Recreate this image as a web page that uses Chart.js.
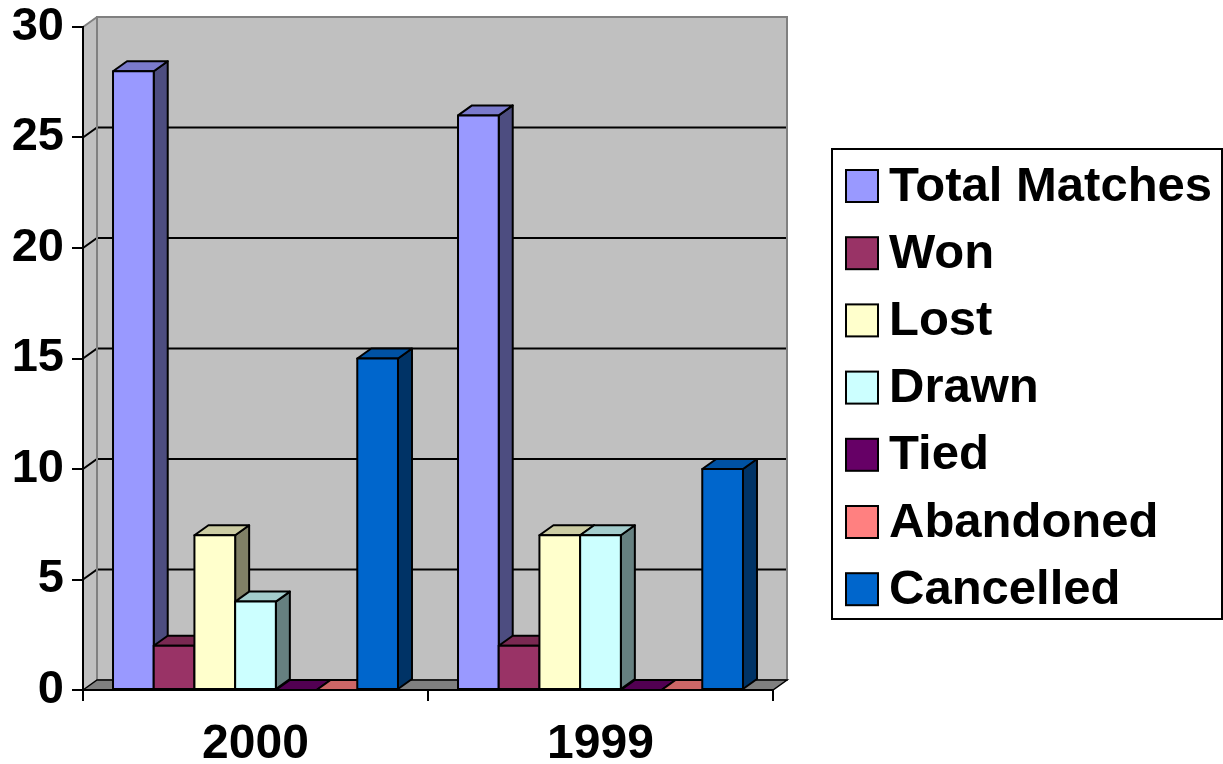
<!DOCTYPE html>
<html>
<head>
<meta charset="utf-8">
<script src="https://cdn.jsdelivr.net/npm/chart.js@4/dist/chart.umd.min.js"></script>
<style>
  html, body { margin: 0; padding: 0; background: #fff; }
  #wrap { width: 1223px; height: 764px; position: relative; }
</style>
</head>
<body>
<div id="wrap"><canvas id="chart"></canvas></div>
<script>
  var years = ["2000", "1999"];
  var seriesNames = ["Total Matches", "Won", "Lost", "Drawn", "Tied", "Abandoned", "Cancelled"];
  var totalMatches = [28, 26];
  var won = [2, 2];
  var lost = [7, 7];
  var drawn = [4, 7];
  var tied = [0, 0];
  var abandoned = [0, 0];
  var cancelled = [15, 10];
  var seriesColors = ["#9999FF", "#993366", "#FFFFCC", "#CCFFFF", "#660066", "#FF8080", "#0066CC"];
  var yTicks = [0, 5, 10, 15, 20, 25, 30];

  var FONT = '"Liberation Sans", Arial, sans-serif';
  var DX = 14, DY = 10; // 3D depth of walls and columns

  function shade(hex, f) {
    var n = parseInt(hex.slice(1), 16);
    var r = Math.round(((n >> 16) & 255) * f), g = Math.round(((n >> 8) & 255) * f), b = Math.round((n & 255) * f);
    return "rgb(" + r + "," + g + "," + b + ")";
  }

  function poly(ctx, pts, fill, stroke, lw) {
    ctx.beginPath();
    ctx.moveTo(pts[0][0], pts[0][1]);
    for (var i = 1; i < pts.length; i++) ctx.lineTo(pts[i][0], pts[i][1]);
    ctx.closePath();
    if (fill) { ctx.fillStyle = fill; ctx.fill(); }
    if (stroke) { ctx.strokeStyle = stroke; ctx.lineWidth = lw || 2; ctx.stroke(); }
  }

  // back wall, side wall, gridlines and floor, drawn before the axes
  var walls = {
    id: "walls",
    beforeDraw: function (chart) {
      var ctx = chart.ctx, a = chart.chartArea, ys = chart.scales.y;
      ctx.save();
      ctx.fillStyle = "#C0C0C0";
      ctx.fillRect(a.left + DX, a.top - DY, a.right - a.left, a.bottom - a.top);
      poly(ctx, [[a.left, a.top], [a.left + DX, a.top - DY], [a.left + DX, a.bottom - DY], [a.left, a.bottom]], "#C0C0C0");

      ctx.strokeStyle = "#000";
      ctx.lineWidth = 2;
      for (var i = 0; i < yTicks.length; i++) {
        var v = yTicks[i];
        if (v === ys.min || v === ys.max) continue;
        var py = ys.getPixelForValue(v);
        ctx.beginPath();
        ctx.moveTo(a.left, py);
        ctx.lineTo(a.left + DX, py - DY);
        ctx.lineTo(a.right + DX, py - DY);
        ctx.stroke();
      }

      ctx.strokeStyle = "#808080";
      ctx.lineWidth = 2;
      ctx.strokeRect(a.left + DX, a.top - DY, a.right - a.left, a.bottom - a.top);
      ctx.beginPath();
      ctx.moveTo(a.left, a.top);
      ctx.lineTo(a.left + DX, a.top - DY);
      ctx.stroke();

      poly(ctx, [[a.left, a.bottom], [a.left + DX, a.bottom - DY], [a.right + DX, a.bottom - DY], [a.right, a.bottom]], "#808080", "#000", 1.5);
      ctx.restore();
    }
  };

  // redraw the columns as boxes, left to right, so each front face hides its neighbour's side
  var columns = {
    id: "columns",
    afterDatasetsDraw: function (chart) {
      var ctx = chart.ctx;
      ctx.save();
      ctx.lineJoin = "round";
      for (var j = 0; j < years.length; j++) {
        for (var i = 0; i < chart.data.datasets.length; i++) {
          var p = chart.getDatasetMeta(i).data[j].getProps(["x", "y", "base", "width"], true);
          var l = p.x - p.width / 2, r = p.x + p.width / 2;
          var t = Math.min(p.y, p.base), b = Math.max(p.y, p.base);
          var c = seriesColors[i];
          if (b - t > 0.5) poly(ctx, [[r, t], [r + DX, t - DY], [r + DX, b - DY], [r, b]], shade(c, 0.5), "#000", 2);
          poly(ctx, [[l, t], [l + DX, t - DY], [r + DX, t - DY], [r, t]], shade(c, 0.8), "#000", 2);
          if (b - t > 0.5) poly(ctx, [[l, t], [r, t], [r, b], [l, b]], c, "#000", 2);
        }
      }
      ctx.restore();
    }
  };

  var legendBox = {
    id: "legendBox",
    afterDraw: function (chart) {
      var ctx = chart.ctx;
      ctx.save();
      ctx.strokeStyle = "#000";
      ctx.lineWidth = 2;
      ctx.strokeRect(832, 149, 390, 470);
      ctx.font = "bold 49px " + FONT;
      ctx.textBaseline = "middle";
      for (var i = 0; i < seriesNames.length; i++) {
        var cy = 186 + i * 67.2;
        ctx.fillStyle = seriesColors[i];
        ctx.fillRect(846, cy - 16, 32, 32);
        ctx.strokeRect(846, cy - 16, 32, 32);
        ctx.fillStyle = "#000";
        ctx.fillText(seriesNames[i], 889, cy + 1);
      }
      ctx.restore();
    }
  };

  var allSeries = [totalMatches, won, lost, drawn, tied, abandoned, cancelled];
  var datasets = [];
  for (var i = 0; i < seriesNames.length; i++) {
    datasets.push({
      label: seriesNames[i],
      data: allSeries[i],
      backgroundColor: seriesColors[i],
      borderWidth: 0,
      categoryPercentage: 0.826,
      barPercentage: 1.0
    });
  }

  new Chart(document.getElementById("chart"), {
    type: "bar",
    data: { labels: years, datasets: datasets },
    plugins: [walls, columns, legendBox],
    options: {
      responsive: true,
      maintainAspectRatio: false,
      animation: false,
      layout: { padding: { top: 27, right: 450, left: 0, bottom: 0 } },
      plugins: { legend: { display: false }, tooltip: { enabled: false } },
      scales: {
        x: {
          offset: true,
          grid: { drawOnChartArea: false, offset: true, tickLength: 11, color: "#000", lineWidth: 2 },
          border: { color: "#000", width: 2 },
          ticks: { color: "#000", padding: 15, font: { family: FONT, size: 48, weight: "bold" } },
          afterFit: function (s) { s.height = 74; s.paddingLeft = 0; s.paddingRight = 0; }
        },
        y: {
          min: 0,
          max: 30,
          afterBuildTicks: function (s) { s.ticks = yTicks.map(function (v) { return { value: v }; }); },
          grid: { drawOnChartArea: false, tickLength: 11, color: "#000", lineWidth: 2 },
          border: { color: "#000", width: 2 },
          ticks: { color: "#000", padding: 8, font: { family: FONT, size: 47, weight: "bold" } },
          afterFit: function (s) { s.width = 83; s.paddingTop = 0; s.paddingBottom = 0; }
        }
      }
    }
  });
</script>
</body>
</html>
